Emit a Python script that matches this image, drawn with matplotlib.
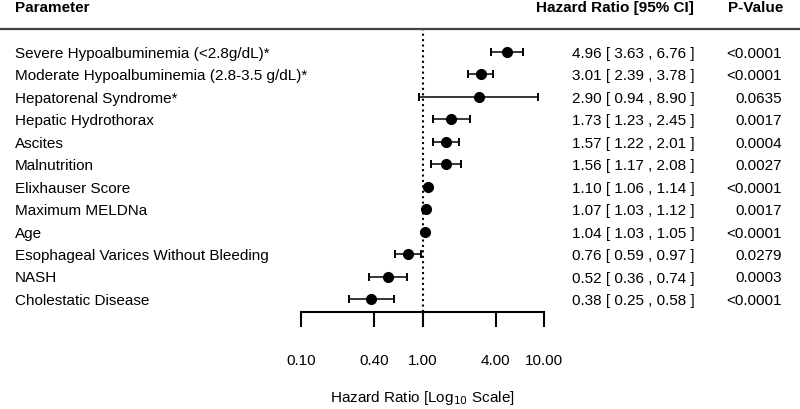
import matplotlib
matplotlib.use("Agg")
import matplotlib.pyplot as plt
import matplotlib.transforms as mtransforms

plt.rcParams['font.family'] = ['Liberation Sans', 'DejaVu Sans']

parameters = [
    "Severe Hypoalbuminemia (<2.8g/dL)*",
    "Moderate Hypoalbuminemia (2.8-3.5 g/dL)*",
    "Hepatorenal Syndrome*",
    "Hepatic Hydrothorax",
    "Ascites",
    "Malnutrition",
    "Elixhauser Score",
    "Maximum MELDNa",
    "Age",
    "Esophageal Varices Without Bleeding",
    "NASH",
    "Cholestatic Disease",
]
hr = [4.96, 3.01, 2.90, 1.73, 1.57, 1.56, 1.10, 1.07, 1.04, 0.76, 0.52, 0.38]
ci_low = [3.63, 2.39, 0.94, 1.23, 1.22, 1.17, 1.06, 1.03, 1.03, 0.59, 0.36, 0.25]
ci_high = [6.76, 3.78, 8.90, 2.45, 2.01, 2.08, 1.14, 1.12, 1.05, 0.97, 0.74, 0.58]
p_values = ["<0.0001", "<0.0001", "0.0635", "0.0017", "0.0004", "0.0027",
            "<0.0001", "0.0017", "<0.0001", "0.0279", "0.0003", "<0.0001"]
tick_values = [0.10, 0.40, 1.00, 4.00, 10.00]
tick_labels = ["0.10", "0.40", "1.00", "4.00", "10.00"]

W, H = 800, 409
DPI = 100
fig = plt.figure(figsize=(W / DPI, H / DPI), dpi=DPI)

# axes geometry in pixels
x0, x1 = 301, 544
ytop, ybot = 28, 312
ax = fig.add_axes([x0 / W, 1 - ybot / H, (x1 - x0) / W, (ybot - ytop) / H])
ax.set_xscale('log')
ax.set_xlim(0.1, 10)
row0, step = 52, 22.48
ax.set_ylim((ybot - row0) / step, (ytop - row0) / step)

ys = list(range(len(parameters)))
ax.axvline(1.0, color='black', ls=(0, (1.0, 1.6)), lw=1.5, zorder=1)
xerr = [[h - l for h, l in zip(hr, ci_low)], [u - h for h, u in zip(hr, ci_high)]]
ax.errorbar(hr, ys, xerr=xerr, fmt='o', color='black', ms=7, elinewidth=1.1,
            capsize=2.8, capthick=1.4, zorder=3, clip_on=False)

for s in ['top', 'left', 'right']:
    ax.spines[s].set_visible(False)
ax.spines['bottom'].set_linewidth(1.5)
ax.set_yticks([])
ax.set_xticks(tick_values)
ax.set_xticklabels(tick_labels)
ax.xaxis.set_minor_locator(matplotlib.ticker.NullLocator())
ax.tick_params(axis='x', direction='out', length=10.5, width=1.5, pad=20, labelsize=11)
ax.set_xlabel("Hazard Ratio [Log$_{10}$ Scale]", fontsize=11)
ax.xaxis.label.set_va('baseline')
ax.xaxis.set_label_coords(0.5, (ybot - 402) / (ybot - ytop))

trans = mtransforms.blended_transform_factory(fig.transFigure, ax.transData)
ttrans = mtransforms.offset_copy(trans, fig=fig, y=-5.7 * 72 / DPI, units='points')
for i, (p, h, l, u, pv) in enumerate(zip(parameters, hr, ci_low, ci_high, p_values)):
    fig.text(15 / W, i, p, transform=ttrans, ha='left', va='baseline', fontsize=11)
    fig.text(572 / W, i, f"{h:.2f} [ {l:.2f} , {u:.2f} ]", transform=ttrans,
             ha='left', va='baseline', fontsize=11)
    fig.text(782 / W, i, pv, transform=ttrans, ha='right', va='baseline', fontsize=11)

hy = 1 - 12 / H
fig.text(15 / W, hy, "Parameter", ha='left', va='baseline', fontsize=11, fontweight='bold')
fig.text(694 / W, hy, "Hazard Ratio [95% CI]", ha='right', va='baseline', fontsize=11, fontweight='bold')
fig.text(783 / W, hy, "P-Value", ha='right', va='baseline', fontsize=11, fontweight='bold')
fig.add_artist(plt.Line2D([0, 1], [1 - 29 / H] * 2, transform=fig.transFigure,
                          color='#444444', lw=1.6))

fig.savefig("out.png", dpi=DPI)
